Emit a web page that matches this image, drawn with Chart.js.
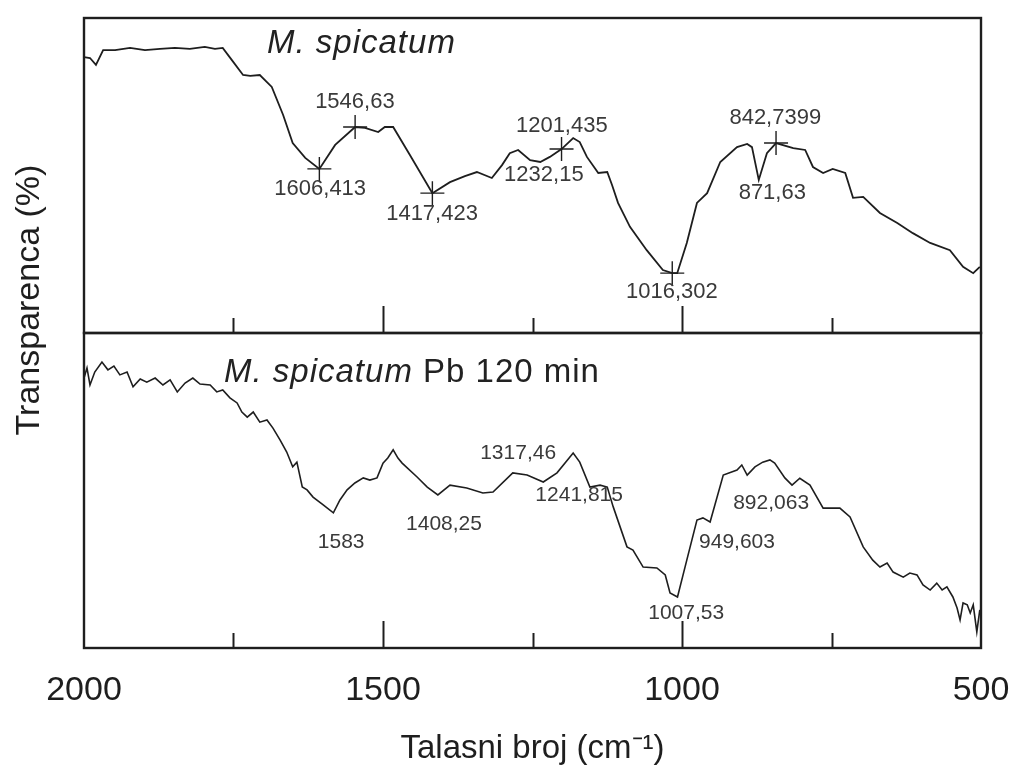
<!DOCTYPE html>
<html>
<head>
<meta charset="utf-8">
<script src="https://cdn.jsdelivr.net/npm/chart.js@4.4.1/dist/chart.umd.min.js"></script>
<style>
  html, body { margin: 0; padding: 0; background: #ffffff; }
  #wrap { width: 1011px; height: 769px; position: relative; }
</style>
</head>
<body>
<div id="wrap"><canvas id="c" width="1011" height="769"></canvas></div>
<script>
// ---------- DATA ----------
// Upper spectrum: M. spicatum (wavenumber cm-1, transparency in panel units)
const wavenumbersTop = [2000, 1990, 1980, 1968, 1948, 1923, 1898, 1873, 1848, 1823, 1798, 1781, 1768, 1753, 1734, 1722, 1706, 1686, 1667, 1651, 1630, 1606.413, 1580, 1546.63, 1530, 1508, 1497, 1483, 1455, 1417.423, 1388, 1363, 1343, 1318, 1301, 1288, 1274, 1254, 1237, 1221, 1201.435, 1182, 1171, 1159, 1140, 1125, 1117, 1107, 1087, 1059, 1032, 1016.302, 1008, 992, 975, 958, 936, 908, 891, 883, 871.63, 858, 842.7399, 814, 794, 781, 764, 748, 727, 714, 697, 669, 640, 614, 585, 552, 530, 513, 502];
const transTop = [87.6, 87.3, 85.1, 89.8, 89.8, 90.5, 89.8, 90.2, 90.5, 90.2, 90.8, 90.2, 90.5, 86.7, 81.9, 81.6, 81.9, 78.1, 69.2, 60.3, 55.6, 52.1, 59.7, 65.4, 65.1, 63.8, 65.4, 65.4, 56.5, 44.4, 47.9, 49.8, 51.1, 49.2, 53.3, 57.1, 58.1, 54.9, 54.3, 55.9, 58.4, 61.9, 60.6, 55.9, 50.8, 51.1, 47.0, 41.3, 33.7, 26.3, 20.0, 19.0, 19.0, 28.6, 41.3, 44.4, 54.3, 59.0, 60.0, 59.0, 48.6, 57.1, 60.3, 58.7, 58.1, 52.7, 50.8, 52.1, 50.8, 42.9, 43.2, 38.1, 34.9, 31.7, 28.6, 26.3, 21.0, 19.0, 21.0];

// Lower spectrum: M. spicatum Pb 120 min
const wavenumbersPb = [2000, 1995, 1990, 1982, 1970, 1960, 1950, 1940, 1928, 1918, 1906, 1895, 1881, 1868, 1856, 1844, 1831, 1818, 1806, 1789, 1778, 1768, 1756, 1744, 1736, 1727, 1717, 1706, 1694, 1684, 1672, 1661, 1651, 1644, 1635, 1627, 1617, 1600, 1583, 1572, 1560, 1547, 1533, 1522, 1510, 1500, 1492, 1483, 1475, 1468, 1443, 1426, 1408.25, 1388, 1360, 1333, 1316, 1283, 1259, 1232, 1209, 1182, 1171, 1154, 1137, 1125, 1115, 1092, 1082, 1065, 1042, 1028, 1020, 1007.53, 992, 975, 965, 953, 931, 908, 900, 891, 878, 865, 853, 845, 828, 816, 803, 786, 764, 736, 719, 697, 681, 669, 657, 647, 630, 619, 607, 597, 585, 574, 565, 557, 547, 540, 535, 530, 523, 518, 513, 507, 502];
const transPb = [85.7, 88.9, 83.5, 87.6, 90.8, 88.3, 89.5, 86.7, 87.6, 82.9, 85.4, 84.4, 85.7, 83.5, 85.1, 81.3, 84.1, 85.7, 83.8, 83.5, 81.3, 81.9, 79.4, 77.8, 74.9, 73.3, 74.9, 71.7, 72.4, 69.8, 66.0, 62.2, 57.5, 59.0, 51.1, 50.2, 47.9, 45.4, 42.9, 47.0, 50.2, 52.4, 54.0, 53.3, 54.0, 58.7, 60.3, 62.9, 60.3, 58.7, 54.3, 51.1, 48.6, 51.7, 50.8, 49.2, 49.5, 55.6, 54.9, 52.7, 55.6, 61.9, 59.0, 51.1, 51.7, 51.1, 44.8, 32.1, 31.1, 25.7, 25.4, 23.2, 17.5, 16.2, 27.9, 40.6, 41.3, 40.0, 54.9, 56.5, 58.1, 54.9, 57.5, 59.0, 59.7, 58.7, 54.0, 51.7, 53.9, 51.7, 44.4, 44.4, 41.6, 32.1, 27.9, 25.7, 27.0, 24.1, 22.5, 23.8, 23.2, 20.0, 18.4, 20.6, 18.4, 19.4, 16.2, 12.7, 8.9, 14.3, 13.7, 11.1, 13.7, 5.1, 12.1];

// Peak cross markers on the upper spectrum
const markWavenumbersTop = [1606.413, 1546.63, 1417.423, 1201.435, 1016.302, 842.7399];
const markValuesTop = [52.1, 65.4, 44.4, 58.4, 19.0, 60.3];

// Peak annotations (text, anchor wavenumber, anchor value)
const labelTextsTop = ['1546,63', '1606,413', '1417,423', '1201,435', '1232,15', '1016,302', '842,7399', '871,63'];
const labelWnTop = [1547, 1605, 1418, 1201, 1231, 1017, 844, 849];
const labelValTop = [73.3, 45.7, 37.8, 65.7, 50.2, 13.0, 68.3, 44.4];

const labelTextsPb = ['1583', '1408,25', '1317,46', '1241,815', '949,603', '892,063', '1007,53'];
const labelWnPb = [1570, 1398, 1274, 1172, 908, 851, 993];
const labelValPb = [33.7, 39.4, 61.9, 48.6, 33.7, 46.0, 11.1];

// Axis ticks
const xTickLabels = [2000, 1500, 1000, 500];
const xMajorTicks = [1500, 1000];
const xMinorTicks = [1750, 1250, 750];

const panelTitleTop = { italic: 'M. spicatum', plain: '' };
const panelTitlePb = { italic: 'M. spicatum', plain: ' Pb 120 min' };
const yTitle = 'Transparenca (%)';
const xTitle = 'Talasni broj (cm\u207B\u00B9)';

// ---------- CHART ----------
const FONT = "'Liberation Sans', Arial, Helvetica, sans-serif";
const INK = '#1e1e1e';

const toXY = (xs, ys) => xs.map((x, i) => ({ x: x, y: ys[i] }));

const panelPlugin = {
  id: 'panelPlugin',
  afterDatasetsDraw(chart) {
    const ctx = chart.ctx;
    const xs = chart.scales.x;
    const yT = chart.scales.yTop;
    const yB = chart.scales.yPb;
    ctx.save();

    // frames
    ctx.strokeStyle = INK;
    ctx.lineWidth = 2.4;
    [yT, yB].forEach(ys => {
      ctx.strokeRect(xs.left, ys.top, xs.right - xs.left, ys.bottom - ys.top);
    });

    // inner tick marks at the bottom of each panel
    ctx.lineWidth = 2;
    [yT, yB].forEach(ys => {
      xMajorTicks.concat(xMinorTicks).forEach(v => {
        const px = Math.round(xs.getPixelForValue(v)) + 0.5;
        const len = xMajorTicks.includes(v) ? 27 : 15;
        ctx.beginPath();
        ctx.moveTo(px, ys.bottom);
        ctx.lineTo(px, ys.bottom - len);
        ctx.stroke();
      });
    });

    // peak annotations
    ctx.fillStyle = '#3a3a3a';
    ctx.font = '22px ' + FONT;
    ctx.textAlign = 'center';
    ctx.textBaseline = 'middle';
    labelTextsTop.forEach((t, i) => {
      ctx.fillText(t, xs.getPixelForValue(labelWnTop[i]), yT.getPixelForValue(labelValTop[i]));
    });
    ctx.font = '21px ' + FONT;
    labelTextsPb.forEach((t, i) => {
      ctx.fillText(t, xs.getPixelForValue(labelWnPb[i]), yB.getPixelForValue(labelValPb[i]));
    });

    // panel titles
    const drawTitle = (title, x, y) => {
      ctx.textAlign = 'left';
      ctx.textBaseline = 'middle';
      ctx.fillStyle = '#222222';
      ctx.letterSpacing = '1px';
      ctx.font = 'italic 33px ' + FONT;
      ctx.fillText(title.italic, x, y);
      const w = ctx.measureText(title.italic).width;
      if (title.plain) {
        ctx.font = '33px ' + FONT;
        ctx.fillText(title.plain, x + w, y);
      }
      ctx.letterSpacing = '0px';
    };
    drawTitle(panelTitleTop, xs.left + 183, yT.top + 26);
    drawTitle(panelTitlePb, xs.left + 140, yB.top + 40);

    // y axis title (shared by both panels)
    ctx.save();
    ctx.translate(30, (yT.top + yB.bottom) / 2 - 33);
    ctx.rotate(-Math.PI / 2);
    ctx.textAlign = 'center';
    ctx.textBaseline = 'middle';
    ctx.fillStyle = INK;
    ctx.font = '34px ' + FONT;
    ctx.fillText(yTitle, 0, 0);
    ctx.restore();

    ctx.restore();
  }
};

const hiddenY = {
  type: 'linear',
  position: 'left',
  stack: 'panels',
  stackWeight: 1,
  min: 0,
  max: 100,
  ticks: { display: false },
  grid: { display: false, drawTicks: false },
  border: { display: false },
  afterFit: s => { s.width = 0; }
};

new Chart(document.getElementById('c'), {
  type: 'line',
  data: {
    datasets: [
      {
        label: 'M. spicatum',
        data: toXY(wavenumbersTop, transTop),
        xAxisID: 'x', yAxisID: 'yTop',
        borderColor: INK, borderWidth: 1.8,
        pointRadius: 0, tension: 0, fill: false
      },
      {
        label: 'M. spicatum Pb 120 min',
        data: toXY(wavenumbersPb, transPb),
        xAxisID: 'x', yAxisID: 'yPb',
        borderColor: INK, borderWidth: 1.6,
        pointRadius: 0, tension: 0, fill: false
      },
      {
        label: 'peaks',
        data: toXY(markWavenumbersTop, markValuesTop),
        xAxisID: 'x', yAxisID: 'yTop',
        showLine: false,
        pointStyle: 'cross',
        pointRadius: 12,
        pointBorderWidth: 1.4,
        pointBorderColor: INK,
        borderColor: INK
      }
    ]
  },
  options: {
    responsive: false,
    animation: false,
    events: [],
    layout: { autoPadding: false, padding: { left: 84, right: 30, top: 18, bottom: 0 } },
    plugins: { legend: { display: false }, tooltip: { enabled: false } },
    scales: {
      yPb: Object.assign({}, hiddenY),
      yTop: Object.assign({}, hiddenY),
      x: {
        type: 'linear',
        position: 'bottom',
        reverse: true,
        min: 500,
        max: 2000,
        grid: { display: false, drawTicks: false },
        border: { display: false },
        ticks: {
          stepSize: 250,
          autoSkip: false,
          maxRotation: 0,
          padding: 22,
          color: INK,
          font: { family: FONT, size: 34 },
          callback: v => xTickLabels.includes(v) ? String(v) : ''
        },
        title: {
          display: true,
          text: xTitle,
          color: INK,
          font: { family: FONT, size: 33 },
          padding: { top: 18, bottom: 0 }
        },
        afterFit: s => { s.paddingLeft = 0; s.paddingRight = 0; s.height = 121; }
      }
    }
  },
  plugins: [panelPlugin]
});
</script>
</body>
</html>
